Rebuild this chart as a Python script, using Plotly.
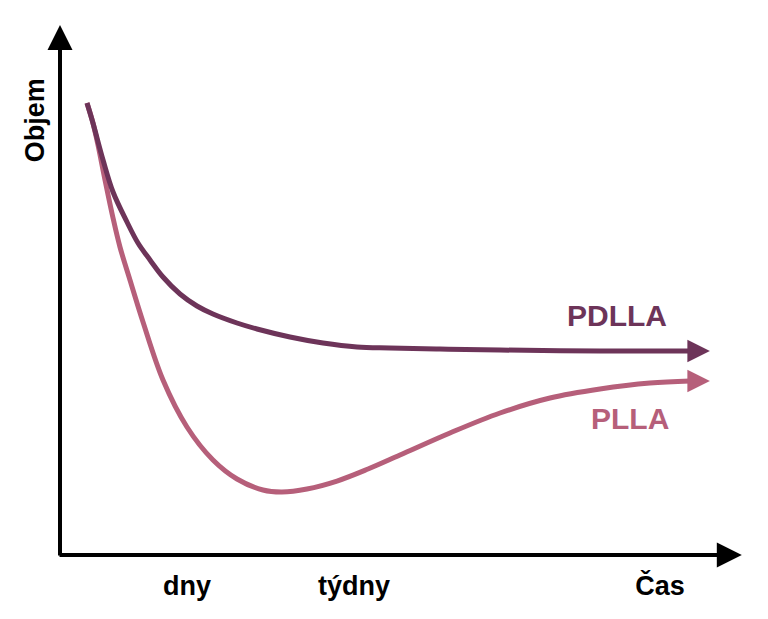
import plotly.graph_objects as go

# ---- data (arbitrary units: time 0-100, volume 0-100)
pdlla_x = [4.08, 4.98, 6.50, 8.01, 10.12, 11.78, 13.60, 15.56, 18.13, 20.69, 23.11, 26.74,
           29.76, 34.74, 39.73, 44.86, 49.85, 57.40, 66.47, 81.57, 95.17]
pdlla_y = [89.50, 85.54, 78.22, 71.88, 65.94, 61.78, 58.42, 55.05, 51.68, 49.31, 47.72, 45.94,
           44.75, 43.17, 41.98, 41.19, 40.99, 40.79, 40.59, 40.40, 40.40]

plla_x = [4.08, 4.98, 5.74, 6.80, 8.01, 9.06, 10.57, 12.54, 15.56, 19.18, 23.11, 26.74,
          30.66, 33.53, 37.31, 41.84, 46.53, 51.36, 58.91, 66.47, 74.02, 81.57, 89.12, 95.17]
plla_y = [89.50, 85.54, 81.19, 74.26, 66.73, 60.99, 54.46, 46.14, 34.65, 25.35, 18.81, 15.05,
          12.87, 12.48, 13.07, 14.65, 17.03, 19.80, 24.16, 28.12, 31.09, 32.87, 34.06, 34.46]

tick_vals = [19.18, 44.41, 90.63]
tick_text = ["dny", "týdny", "Čas"]

series_names = ["PDLLA", "PLLA"]
label_pos = {"PDLLA": (84.14, 47.33), "PLLA": (86.10, 27.13)}

DARK = "#6d3459"
PINK = "#b65f7a"
FONT = "Liberation Sans, Arial, sans-serif"

X_RANGE = [-0.604, 103.63]
Y_RANGE = [-0.79, 105.54]
X_AXIS_END = 103.0
Y_AXIS_END = 104.95
CURVE_ARROW_LEN = 3.0

fig = go.Figure()
fig.add_trace(go.Scatter(x=plla_x, y=plla_y, mode="lines", name="PLLA",
                         line=dict(color=PINK, width=5, shape="spline", smoothing=1.0),
                         cliponaxis=False, hoverinfo="skip"))
fig.add_trace(go.Scatter(x=pdlla_x, y=pdlla_y, mode="lines", name="PDLLA",
                         line=dict(color=DARK, width=5, shape="spline", smoothing=1.0),
                         cliponaxis=False, hoverinfo="skip"))

annotations = []
# axis arrows
annotations.append(dict(x=0, y=Y_AXIS_END, ax=0, ay=-0.4, xref="x", yref="y", axref="x", ayref="y",
                        text="", showarrow=True, arrowhead=2, arrowsize=1.25, arrowwidth=4,
                        arrowcolor="black"))
annotations.append(dict(x=X_AXIS_END, y=0, ax=-0.3, ay=0, xref="x", yref="y", axref="x", ayref="y",
                        text="", showarrow=True, arrowhead=2, arrowsize=1.25, arrowwidth=4,
                        arrowcolor="black"))
# curve arrows
for xs, ys, col in [(plla_x, plla_y, PINK), (pdlla_x, pdlla_y, DARK)]:
    annotations.append(dict(x=xs[-1] + CURVE_ARROW_LEN, y=ys[-1], ax=xs[-1] - 0.5, ay=ys[-1],
                            xref="x", yref="y", axref="x", ayref="y",
                            text="", showarrow=True, arrowhead=2, arrowsize=0.9, arrowwidth=5,
                            arrowcolor=col))
# series labels
for name, col in zip(series_names, [DARK, PINK]):
    lx, ly = label_pos[name]
    annotations.append(dict(x=lx, y=ly, xref="x", yref="y", text=name, showarrow=False,
                            font=dict(family=FONT, size=30, color=col, weight="bold")))
# y-axis title
annotations.append(dict(x=-0.0304, y=86.1, xref="paper", yref="y", text="Objem", textangle=-90,
                        xanchor="center", yanchor="middle",
                        showarrow=False, font=dict(family=FONT, size=27, color="black", weight="bold")))

fig.update_layout(
    width=768, height=619,
    margin=dict(l=56, r=22, t=22, b=60),
    paper_bgcolor="white", plot_bgcolor="white",
    showlegend=False,
    annotations=annotations,
    xaxis=dict(range=X_RANGE, showgrid=False, zeroline=False, showline=False,
               tickvals=tick_vals, ticktext=tick_text, ticks="",
               tickfont=dict(family=FONT, size=27, color="black", weight="bold"),
               ticklabelstandoff=8, fixedrange=True),
    yaxis=dict(range=Y_RANGE, showgrid=False, zeroline=False, showline=False,
               showticklabels=False, ticks="", fixedrange=True),
)

fig.write_html("out.html")
